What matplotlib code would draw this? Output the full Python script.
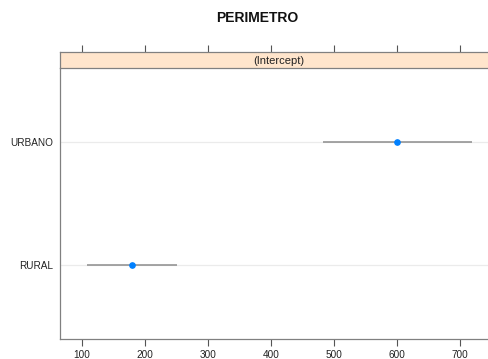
import matplotlib
matplotlib.use("Agg")
import matplotlib.pyplot as plt
from matplotlib.patches import Rectangle

plt.rcParams["font.family"] = ["Liberation Sans", "DejaVu Sans"]

# Data
groups = ["RURAL", "URBANO"]
estimates = [179, 600]
lower = [108, 482]
upper = [250, 719]
xticks = [100, 200, 300, 400, 500, 600, 700]

fig = plt.figure(figsize=(4.88, 3.59), dpi=100)

# main panel (extends slightly past right edge, as in the reference)
ax = fig.add_axes([60 / 488, 20 / 359, 438 / 488, 271 / 359])
ypos = list(range(1, len(groups) + 1))

for y in ypos:
    ax.axhline(y, color="#ebebeb", linewidth=0.9, zorder=0)
ax.hlines(ypos, lower, upper, color="#8c8c8c", linewidth=1.1, zorder=2)
ax.plot(estimates, ypos, "o", color="#0080ff", markersize=3.8, zorder=3)

ax.set_xlim(65, 760)
ax.set_ylim(0.4, 2.6)
ax.set_yticks(ypos)
ax.set_yticklabels(groups, fontsize=7.2)
ax.set_xticks(xticks)
ax.set_xticklabels([str(t) for t in xticks], fontsize=7.2)
ax.tick_params(axis="y", length=0, pad=5, colors="#222222")
ax.tick_params(axis="x", length=5, width=0.8, color="#555555",
               labelcolor="#222222", top=True, pad=3)
for s in ax.spines.values():
    s.set_color("#808080")
    s.set_linewidth(0.9)
ax.spines["top"].set_visible(False)

# strip on top
strip = fig.add_axes([60 / 488, 291 / 359, 438 / 488, 16 / 359])
strip.set_xlim(65, 760)
strip.set_ylim(0, 1)
strip.add_patch(Rectangle((65, 0), 695, 1, facecolor="#ffe5cc",
                          edgecolor="none"))
strip.text(0.5, 0.45, "(Intercept)", transform=strip.transAxes,
           ha="center", va="center", fontsize=8, color="#222222")
strip.set_xticks(xticks)
strip.set_xticklabels([])
strip.set_yticks([])
strip.tick_params(axis="x", bottom=False, top=True, length=5, width=0.8,
                  color="#555555")
for s in strip.spines.values():
    s.set_color("#808080")
    s.set_linewidth(0.9)

fig.text(257 / 488, 1 - 18 / 359, "PERIMETRO", ha="center", va="center",
         fontsize=10, fontweight="bold", color="#111111")

fig.savefig("out.png", dpi=100)
